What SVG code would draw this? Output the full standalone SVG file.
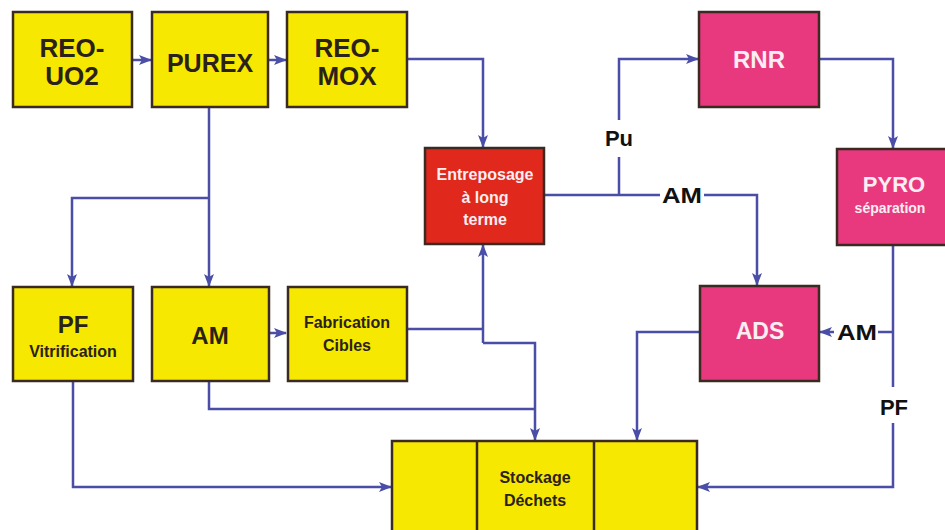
<svg xmlns="http://www.w3.org/2000/svg" width="945" height="530" viewBox="0 0 945 530">
<defs>
<style>
.box{stroke:#3a2a22;stroke-width:2.5}
.y{fill:#f6e800}
.r{fill:#e0281c}
.p{fill:#e8397f}
.t{font-family:"Liberation Sans",Arial,sans-serif;font-weight:bold;text-anchor:middle}
.dk{fill:#2a2218}
.wh{fill:#fbeef2}
.c{fill:none;stroke:#4a4ea6;stroke-width:2.5}
.lbl{font-family:"Liberation Sans",Arial,sans-serif;font-weight:bold;text-anchor:middle;fill:#111;font-size:22px}
</style>
<marker id="ah" markerUnits="userSpaceOnUse" markerWidth="14" markerHeight="12" refX="12" refY="5" orient="auto">
<path d="M0,0 L13,5 L0,10 L3,5 z" fill="#4a4ea6"/>
</marker>
</defs>
<rect width="945" height="530" fill="#ffffff"/>

<g id="connectors">
<path class="c" d="M132,60 L151,60" marker-end="url(#ah)"/>
<path class="c" d="M268,60 L286,60" marker-end="url(#ah)"/>
<path class="c" d="M407,59 L483,59 L483,147" marker-end="url(#ah)"/>
<path class="c" d="M209,107 L209,286" marker-end="url(#ah)"/>
<path class="c" d="M209,198 L72,198 L72,286" marker-end="url(#ah)"/>
<path class="c" d="M269,333 L286,333" marker-end="url(#ah)"/>
<path class="c" d="M544,195 L660,195"/>
<path class="c" d="M704,195 L757,195 L757,285" marker-end="url(#ah)"/>
<path class="c" d="M619,195 L619,157"/>
<path class="c" d="M619,120 L619,59 L698,59" marker-end="url(#ah)"/>
<path class="c" d="M819,59 L893,59 L893,148" marker-end="url(#ah)"/>
<path class="c" d="M893,245 L893,387"/>
<path class="c" d="M893,423 L893,487 L698,487" marker-end="url(#ah)"/>
<path class="c" d="M893,332 L878,332"/>
<path class="c" d="M834,332 L820,332" marker-end="url(#ah)"/>
<path class="c" d="M700,332 L637,332 L637,440" marker-end="url(#ah)"/>
<path class="c" d="M407,329 L483,329"/>
<path class="c" d="M483,343 L483,245" marker-end="url(#ah)"/>
<path class="c" d="M483,343 L535,343 L535,440" marker-end="url(#ah)"/>
<path class="c" d="M209,381 L209,409 L535,409"/>
<path class="c" d="M73,381 L73,487 L391,487" marker-end="url(#ah)"/>
<text class="lbl" x="619" y="146" font-size="21">Pu</text>
<text class="lbl" x="682" y="203" textLength="40" lengthAdjust="spacingAndGlyphs">AM</text>
<text class="lbl" x="857" y="340" textLength="40" lengthAdjust="spacingAndGlyphs">AM</text>
<text class="lbl" x="894" y="415">PF</text>
</g>

<g id="reo-uo2">
<rect class="box y" x="13" y="12" width="119" height="95"/>
<text class="t dk" x="72" y="57" font-size="26">REO-</text>
<text class="t dk" x="72" y="85" font-size="26">UO2</text>
</g>
<g id="purex">
<rect class="box y" x="152" y="12" width="116" height="95"/>
<text class="t dk" x="210" y="72" font-size="25">PUREX</text>
</g>
<g id="reo-mox">
<rect class="box y" x="287" y="12" width="120" height="95"/>
<text class="t dk" x="347" y="57" font-size="26">REO-</text>
<text class="t dk" x="347" y="85" font-size="26">MOX</text>
</g>
<g id="entreposage">
<rect class="box r" x="425" y="148" width="119" height="96"/>
<text class="t wh" x="485" y="180" font-size="16">Entreposage</text>
<text class="t wh" x="485" y="203" font-size="16">à long</text>
<text class="t wh" x="485" y="225" font-size="16">terme</text>
</g>
<g id="rnr">
<rect class="box p" x="699" y="12" width="120" height="95"/>
<text class="t wh" x="759" y="68" font-size="24">RNR</text>
</g>
<g id="pyro">
<rect class="box p" x="837" y="149" width="112" height="96"/>
<text class="t wh" x="894" y="192" font-size="22">PYRO</text>
<text class="t wh" x="890" y="213" font-size="14">séparation</text>
</g>
<g id="pf-vitrification">
<rect class="box y" x="13" y="287" width="120" height="94"/>
<text class="t dk" x="73" y="333" font-size="24">PF</text>
<text class="t dk" x="73" y="357" font-size="16">Vitrification</text>
</g>
<g id="am">
<rect class="box y" x="152" y="287" width="117" height="94"/>
<text class="t dk" x="210" y="344" font-size="24">AM</text>
</g>
<g id="fabrication-cibles">
<rect class="box y" x="288" y="287" width="119" height="94"/>
<text class="t dk" x="347" y="328" font-size="16">Fabrication</text>
<text class="t dk" x="347" y="351" font-size="16">Cibles</text>
</g>
<g id="ads">
<rect class="box p" x="700" y="286" width="119" height="95"/>
<text class="t wh" x="760" y="339" font-size="23">ADS</text>
</g>
<g id="stockage-dechets">
<rect class="box y" x="392" y="441" width="305" height="100"/>
<line class="box" x1="477" y1="441" x2="477" y2="541"/>
<line class="box" x1="594" y1="441" x2="594" y2="541"/>
<text class="t dk" x="535" y="483" font-size="16">Stockage</text>
<text class="t dk" x="535" y="506" font-size="16">Déchets</text>
</g>
</svg>
